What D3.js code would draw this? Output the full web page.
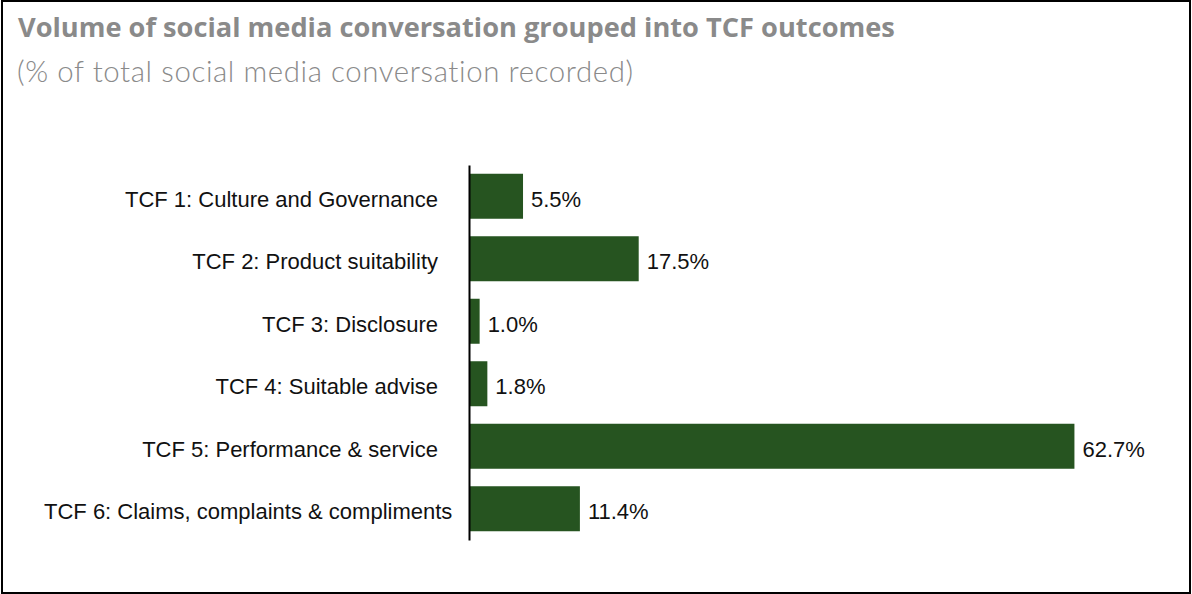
<!DOCTYPE html>
<html>
<head>
<meta charset="utf-8">
<script src="https://cdn.jsdelivr.net/npm/d3@7"></script>
<style>
  html, body { margin: 0; padding: 0; background: #fff; }
  svg { display: block; }
</style>
</head>
<body>
<svg id="chart" width="1192" height="594"></svg>
<script>
// TCF outcome categories and their share of conversation (%)
const categories = [
  "TCF 1: Culture and Governance",
  "TCF 2: Product suitability",
  "TCF 3: Disclosure",
  "TCF 4: Suitable advise",
  "TCF 5: Performance & service",
  "TCF 6: Claims, complaints & compliments"
];
const shares = [5.5, 17.5, 1.0, 1.8, 62.7, 11.4];
const valueLabels = ["5.5%", "17.5%", "1.0%", "1.8%", "62.7%", "11.4%"];

const titleText = "Volume of social media conversation grouped into TCF outcomes";
const subtitleText = "(% of total social media conversation recorded)";

const svg = d3.select("#chart");
const W = 1192, H = 594;

// outer frame
svg.append("rect")
  .attr("x", 2).attr("y", 1)
  .attr("width", W - 4).attr("height", H - 2)
  .attr("fill", "#fff")
  .attr("stroke", "#000")
  .attr("stroke-width", 2);

// fit a text element to a target width by adjusting its font size
function fitWidth(sel, target) {
  const node = sel.node();
  const fs = parseFloat(sel.attr("font-size"));
  const w = node.getComputedTextLength();
  if (w > 0) sel.attr("font-size", (fs * target / w).toFixed(2));
}

const title = svg.append("text")
  .attr("x", 18).attr("y", 37)
  .attr("font-family", "'Open Sans', 'DejaVu Sans', sans-serif")
  .attr("font-weight", 700)
  .attr("font-size", 22)
  .attr("fill", "#8a8a8a")
  .text(titleText);
fitWidth(title, 877);

const subtitle = svg.append("text")
  .attr("x", 17).attr("y", 82)
  .attr("font-family", "Lato, 'Open Sans', sans-serif")
  .attr("font-weight", 300)
  .attr("font-size", 25)
  .attr("fill", "#8a8a8a")
  .attr("letter-spacing", 0.6)
  .text(subtitleText);
fitWidth(subtitle, 622);

// scales
const x = d3.scaleLinear().domain([0, 70]).range([470, 470 + 70 * 9.64]);
const y = d3.scaleBand()
  .domain(categories)
  .range([165, 540])
  .paddingInner(0.28)
  .paddingOuter(0.14);

const labelFont = "'Liberation Sans', Arial, sans-serif";
const labelSize = 22;

// bars
svg.append("g")
  .selectAll("rect")
  .data(categories)
  .join("rect")
  .attr("x", x(0))
  .attr("y", d => y(d))
  .attr("width", (d, i) => x(shares[i]) - x(0))
  .attr("height", y.bandwidth())
  .attr("fill", "#265420");

// value labels
svg.append("g")
  .selectAll("text")
  .data(categories)
  .join("text")
  .attr("x", (d, i) => x(shares[i]) + 8)
  .attr("y", d => y(d) + y.bandwidth() / 2)
  .attr("dy", "0.48em")
  .attr("font-family", labelFont)
  .attr("font-size", labelSize)
  .attr("fill", "#111")
  .text((d, i) => valueLabels[i]);

// category axis
const tickPad = 31;
const axis = svg.append("g")
  .attr("transform", `translate(${x(0) - 1},0)`)
  .call(d3.axisLeft(y).tickSize(0).tickPadding(tickPad).tickSizeOuter(0));
axis.select(".domain").attr("stroke", "#000").attr("stroke-width", 2);

// labels wider than the label area start at its left edge instead
const labelAreaLeft = 44;
const labelRight = x(0) - 1 - tickPad;
axis.selectAll(".tick text")
  .attr("font-family", labelFont)
  .attr("font-size", labelSize)
  .attr("fill", "#111")
  .attr("dy", "0.48em")
  .each(function () {
    const t = d3.select(this);
    const w = this.getComputedTextLength();
    if (w > labelRight - labelAreaLeft) {
      t.attr("text-anchor", "start").attr("x", labelAreaLeft - (x(0) - 1));
    }
  });
</script>
</body>
</html>
